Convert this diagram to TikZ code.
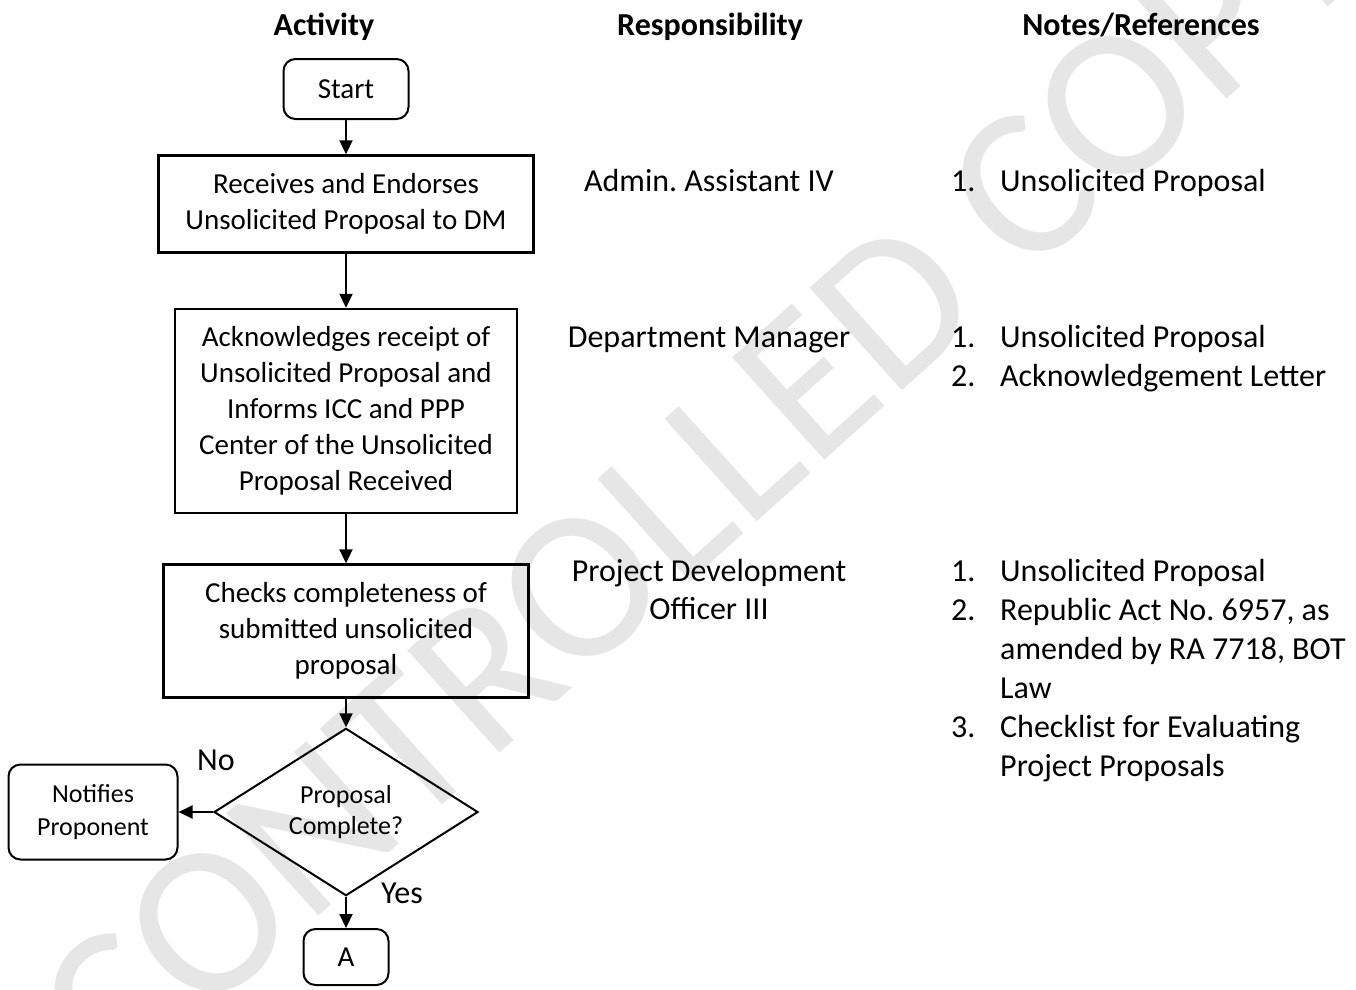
\documentclass[tikz,border=0pt]{standalone}
\usepackage{fontspec}
\setmainfont{Carlito}
\usetikzlibrary{arrows.meta,shapes.geometric}
\definecolor{stampgray}{RGB}{230,230,230}
\frenchspacing

\begin{document}
\begin{tikzpicture}[x=1pt,y=-1pt,
box/.style={draw,line width=2.4pt,align=center,inner sep=0pt,font=\fontsize{29}{36}\selectfont},
term/.style={box,rounded corners=12pt,line width=2pt},
choice/.style={draw,diamond,line width=2pt,inner sep=0pt,align=center,font=\fontsize{26}{31}\selectfont},
head/.style={anchor=base,font=\fontsize{32}{39}\selectfont\bfseries},
role/.style={anchor=base,align=center,font=\fontsize{32}{38}\selectfont},
note/.style={anchor=base west,inner sep=0pt,font=\fontsize{32}{39}\selectfont},
flow/.style={-{Triangle[length=14pt,width=13pt]},line width=2pt}]
\useasboundingbox (0,0) rectangle (1356,989);
\node[rotate=42,text=stampgray,font=\fontsize{215}{215}\selectfont] (stamp) at (700,480) {CONTROLLED COPY};
\node[head] (hactivity) at (324,35) {Activity};
\node[head] (hrole) at (710,35) {Responsibility};
\node[head] (hnotes) at (1141,35) {Notes/References};
\node[term,minimum width=125pt,minimum height=60pt,font=\fontsize{29}{36}\selectfont] (start) at (346,89) {Start};
\node[box,minimum width=375pt,minimum height=97pt] (receive) at (346,204) {Receives and Endorses\\Unsolicited Proposal to DM};
\node[box,minimum width=342pt,minimum height=204pt] (inform) at (346,411) {Acknowledges receipt of\\Unsolicited Proposal and\\Informs ICC and PPP\\Center of the Unsolicited\\Proposal Received};
\node[box,minimum width=365pt,minimum height=133pt] (check) at (346,631) {Checks completeness of\\submitted unsolicited\\proposal};
\node[choice,minimum width=264pt,minimum height=121pt] (complete) at (346,812) {Proposal\\Complete?};
\node[term,minimum width=169pt,minimum height=95pt,font=\fontsize{26}{33}\selectfont] (notify) at (93,812) {Notifies\\Proponent};
\node[term,minimum width=85pt,minimum height=56pt,font=\fontsize{29}{36}\selectfont] (conna) at (346,957) {A};
\node[font=\fontsize{32}{39}\selectfont] (no) at (216,760) {No};
\node[font=\fontsize{32}{39}\selectfont] (yes) at (402,893) {Yes};
\node[role] (admin) at (709,191) {Admin. Assistant IV};
\node[role] (manager) at (709,347) {Department Manager};
\node[role] (officer) at (709,619) {Project Development\\Officer III};
\node[note] (notes1) at (951,191) {\begin{tabular}[t]{@{}p{49pt}@{}l@{}}1.&Unsolicited Proposal\end{tabular}};
\node[note] (notes2) at (951,347) {\begin{tabular}[t]{@{}p{49pt}@{}l@{}}1.&Unsolicited Proposal\\2.&Acknowledgement Letter\end{tabular}};
\node[note] (notes3) at (951,581) {\begin{tabular}[t]{@{}p{49pt}@{}l@{}}1.&Unsolicited Proposal\\2.&Republic Act No. 6957, as\\&amended by RA 7718, BOT\\&Law\\3.&Checklist for Evaluating\\&Project Proposals\end{tabular}};
\draw[flow] (start) -- (receive);
\draw[flow] (receive) -- (inform);
\draw[flow] (inform) -- (check);
\draw[flow] (check) -- (complete);
\draw[flow] (complete) -- (notify);
\draw[flow] (complete) -- (conna);
\end{tikzpicture}
\end{document}
